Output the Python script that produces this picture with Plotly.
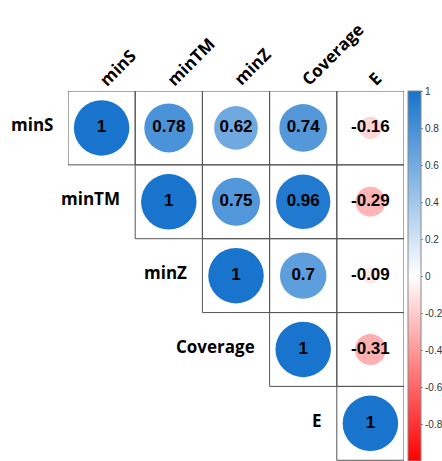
import plotly.graph_objects as go

labels = ["minS", "minTM", "minZ", "Coverage", "E"]

# upper-triangle correlation values, row by row (starting at the diagonal)
row_minS = [1, 0.78, 0.62, 0.74, -0.16]
row_minTM = [1, 0.75, 0.96, -0.29]
row_minZ = [1, 0.7, -0.09]
row_Coverage = [1, -0.31]
row_E = [1]
rows = [row_minS, row_minTM, row_minZ, row_Coverage, row_E]

cbar_ticks = [1, 0.8, 0.6, 0.4, 0.2, 0, -0.2, -0.4, -0.6, -0.8, -1]

xs, ys, vals, txt = [], [], [], []
for i, r in enumerate(rows):
    for k, v in enumerate(r):
        j = i + k
        xs.append(j)
        ys.append(i)
        vals.append(v)
        txt.append(f"{v:g}")

FULL = 55.5
sizes = [FULL * abs(v) ** 0.5 for v in vals]

colorscale = [[0.0, "rgb(255,0,0)"], [0.5, "rgb(255,255,255)"], [1.0, "rgb(24,116,205)"]]

fig = go.Figure()
fig.add_trace(go.Scatter(
    x=xs, y=ys, mode="markers+text",
    text=txt,
    textposition="middle center",
    textfont=dict(family="Liberation Sans, Arial, sans-serif", size=17, color="black", weight="bold"),
    marker=dict(
        size=sizes, sizemode="diameter", opacity=1,
        color=vals, cmin=-1, cmax=1, colorscale=colorscale,
        line=dict(width=0),
        colorbar=dict(
            x=1.012, xanchor="left", xpad=0,
            y=0.5, yanchor="middle", ypad=0, len=1, lenmode="fraction",
            thickness=13,
            outlinewidth=1, outlinecolor="#888",
            tickvals=cbar_ticks, ticktext=[f"{t:g}" for t in cbar_ticks],
            ticks="outside", ticklen=2, tickcolor="#888",
            tickfont=dict(family="Liberation Sans, Arial, sans-serif", size=10, color="#333"),
        ),
    ),
    hoverinfo="skip",
    showlegend=False,
))

shapes = []
for i, r in enumerate(rows):
    for k in range(len(r)):
        j = i + k
        shapes.append(dict(type="rect", xref="x", yref="y",
                           x0=j - 0.5, x1=j + 0.5, y0=i - 0.5, y1=i + 0.5,
                           line=dict(color="#555", width=1), fillcolor="rgba(0,0,0,0)",
                           layer="below"))

annotations = []
lab_font = dict(family="Open Sans, sans-serif", size=17, color="black", weight="bold")
for i, name in enumerate(labels):
    annotations.append(dict(x=i - 0.5, y=i, xref="x", yref="y", text=name,
                            showarrow=False, xanchor="right", yanchor="middle",
                            xshift=-13, yshift=3, font=lab_font))
    annotations.append(dict(x=i, y=-0.5, xref="x", yref="y", text=name,
                            showarrow=False, xanchor="left", yanchor="bottom",
                            textangle=-45, xshift=-10, yshift=-2, font=lab_font))

fig.update_layout(
    width=442, height=461,
    margin=dict(l=68, r=38, t=91, b=0, autoexpand=False),
    paper_bgcolor="white", plot_bgcolor="white",
    xaxis=dict(range=[-0.5, 4.5], showgrid=False, zeroline=False, showticklabels=False, showline=False),
    yaxis=dict(range=[4.51, -0.5], showgrid=False, zeroline=False, showticklabels=False, showline=False),
    shapes=shapes, annotations=annotations,
)

fig.write_html("out.html", config={"displayModeBar": False},
               post_script="document.body.style.margin='0';document.body.style.overflow='hidden';")
